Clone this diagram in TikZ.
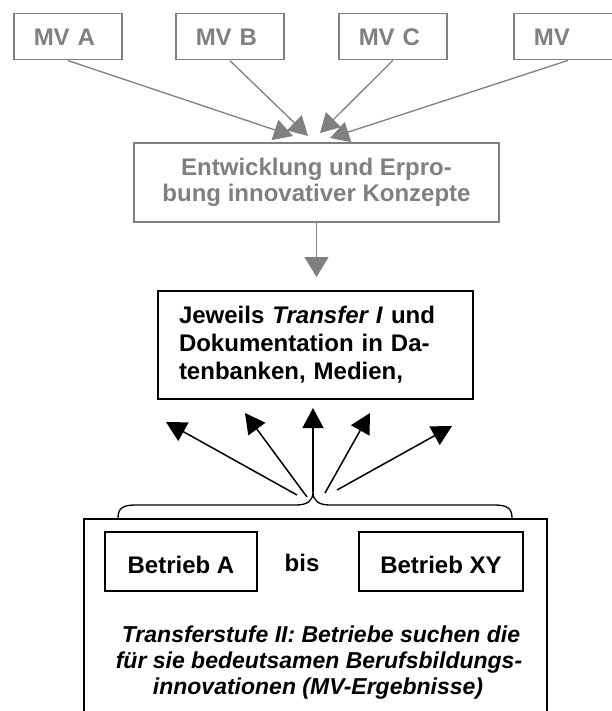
\documentclass[tikz,border=0pt]{standalone}
\usepackage{fontspec}
\setmainfont{Liberation Sans}
\usetikzlibrary{arrows.meta}
\definecolor{grayline}{HTML}{808080}
\begin{document}
\begin{tikzpicture}[x=1pt,y=-1pt,
  mvbox/.style={draw=grayline, line width=1.5pt, text=grayline,
    font=\bfseries\fontsize{24}{28}\selectfont, minimum height=46pt,
    text width=68pt, inner xsep=20pt, inner ysep=0pt, align=left,
    text height=18pt, text depth=0pt, anchor=north west},
  graybox/.style={draw=grayline, line width=1.5pt, text=grayline,
    font=\bfseries\fontsize{24}{26}\selectfont, minimum width=365pt,
    minimum height=79pt, align=center, inner sep=0pt},
  blackbox/.style={draw=black, line width=2pt,
    font=\bfseries\fontsize{24}{28}\selectfont, minimum height=108pt,
    text width=273pt, inner xsep=21pt, inner ysep=0pt, align=left},
  betrieb/.style={draw=black, line width=1.5pt,
    font=\bfseries\fontsize{24}{28}\selectfont, minimum height=59pt,
    inner sep=0pt, text height=23pt, text depth=0pt},
  italline/.style={font=\bfseries\itshape\fontsize{23}{27}\selectfont,
    anchor=base, inner sep=0pt},
  grayarrow/.style={draw=grayline, line width=1.3pt,
    -{Triangle[length=19pt,width=21pt]}, color=grayline},
  blackarrow/.style={draw=black, line width=1.5pt,
    -{Triangle[length=20pt,width=21pt]}},
]
\clip (0,0) rectangle (612,711);
\fill[white] (0,0) rectangle (612,711);

% top boxes
\node[mvbox] (mva) at (13,13) {MV A};
\node[mvbox] (mvb) at (175,13) {MV B};
\node[mvbox] (mvc) at (338,13) {MV C};
\node[mvbox] (mvd) at (513,13) {MV};

% development box
\node[graybox] (ent) at (316.5,182.5) {Entwicklung und Erpro-\\bung innovativer Konzepte};

\coordinate (ta) at (293,136);
\coordinate (tb) at (308,136);
\coordinate (tc) at (320,133);
\coordinate (td) at (330,138);
\draw[grayarrow] (mva.south) -- (ta);
\draw[grayarrow] (mvb.south) -- (tb);
\draw[grayarrow] (mvc.south) -- (tc);
\draw[grayarrow] (mvd.south) -- (td);

% transfer box
\node[blackbox] (jew) at (315.5,345) {Jeweils \textit{Transfer I} und\\Dokumentation in Da-\\tenbanken, Medien,};

\coordinate (tv) at (316.5,277);
\draw[grayline, line width=1.3pt, -{Triangle[length=20pt,width=24pt]}] (ent.south) -- (tv);

% bottom stage box
\node[draw=black, line width=1.5pt, minimum width=463pt, minimum height=210pt,
  anchor=north west, inner sep=0pt] (stage) at (83,518) {};

\node[betrieb, minimum width=152pt] (ba) at (181,561.5) {Betrieb A};
\node[betrieb, minimum width=164pt] (bxy) at (441,561.5) {Betrieb XY};
\node[font=\bfseries\fontsize{24}{28}\selectfont, anchor=base, inner sep=0pt] (bis) at (302,571) {bis};

\node[italline] (l1) at (321,642) {Transferstufe II: Betriebe suchen die};
\node[italline] (l2) at (319,668) {für sie bedeutsamen Berufsbildungs-};
\node[italline] (l3) at (318,694) {innovationen (MV-Ergebnisse)};

% brace
\coordinate (bl) at (118,518);
\coordinate (br) at (512,518);
\coordinate (btip) at (313,492);
\draw[black, line width=1.3pt]
  (bl) .. controls (118,508) and (123,505) .. (136,505)
  -- (296,505) .. controls (307,505) and (313,501) .. (btip)
  .. controls (313,501) and (319,505) .. (330,505)
  -- (494,505) .. controls (507,505) and (512,508) .. (br);

% arrows to transfer box
\coordinate (s1) at (297,495);
\coordinate (s2) at (307,497);
\coordinate (s4) at (325,493);
\coordinate (s5) at (337,490);
\coordinate (t1) at (166,422);
\coordinate (t2) at (245,413);
\coordinate (t3) at (313,408);
\coordinate (t4) at (370,413);
\coordinate (t5) at (452,426);
\draw[blackarrow] (s1) -- (t1);
\draw[blackarrow] (s2) -- (t2);
\draw[blackarrow] (btip) -- (t3);
\draw[blackarrow] (s4) -- (t4);
\draw[blackarrow] (s5) -- (t5);
\end{tikzpicture}
\end{document}
